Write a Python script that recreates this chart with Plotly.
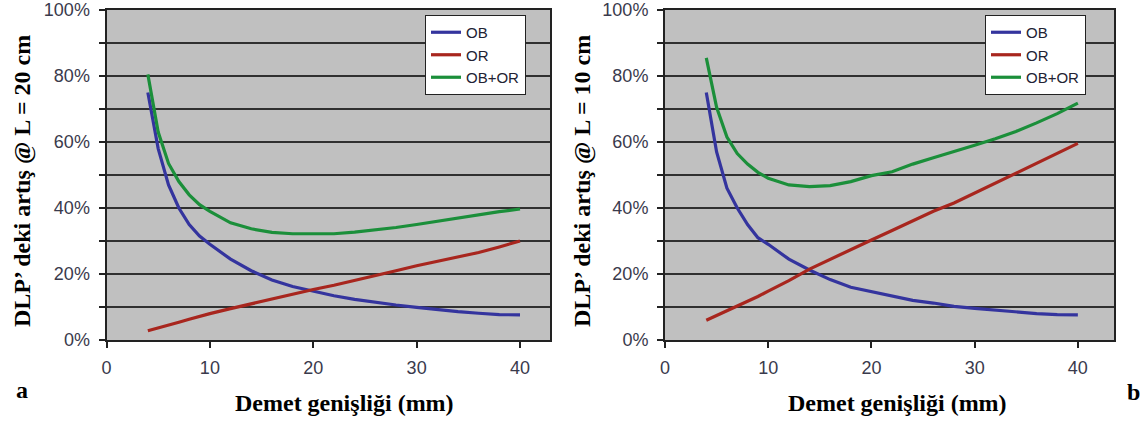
import plotly.graph_objects as go

# Beam width (mm)
width_mm = [4, 5, 6, 7, 8, 9, 10, 12, 14, 16, 18, 20, 22, 24, 26, 28, 30, 32, 34, 36, 38, 40]

# Panel a: L = 20 cm (values in %)
ob_a = [75, 58, 47, 40, 35, 31.5, 29, 24.5, 21, 18.2, 16.2, 14.7, 13.4, 12.3, 11.4, 10.6, 9.9, 9.2, 8.6, 8.1, 7.7, 7.6]
or_a = [2.8, 3.6, 4.5, 5.4, 6.3, 7.2, 8.0, 9.5, 11.0, 12.5, 14.0, 15.3, 16.6, 18.0, 19.5, 21.0, 22.5, 23.8, 25.0, 26.5, 28.2, 30.0]
sum_a = [80.5, 63, 53.5, 48, 44, 41, 39, 35.5, 33.7, 32.6, 32.2, 32.2, 32.2, 32.7, 33.3, 34.1, 35, 36, 37.1, 38, 38.9, 39.7]

# Panel b: L = 10 cm (values in %)
ob_b = [75, 57, 46, 40, 35, 31, 29, 24.5, 21.2, 18.3, 16, 14.7, 13.2, 12, 11.2, 10.2, 9.6, 9, 8.5, 8, 7.7, 7.6]
or_b = [6, 7.4, 8.8, 10.2, 11.6, 13.2, 14.8, 18, 21.5, 24.5, 27.5, 30.3, 33.2, 36, 39, 41.5, 44.5, 47.5, 50.5, 53.5, 56.5, 59.6]
sum_b = [85.5, 70.5, 61.5, 56.5, 53.3, 50.8, 49, 47, 46.5, 46.8, 48, 49.8, 51, 53.3, 55.2, 57, 59, 61, 63.2, 65.8, 68.6, 71.8]

series_names = ["OB", "OR", "OB+OR"]
colors = ["#34349e", "#a8261e", "#1b8f3a"]

y_tickvals = [0, 10, 20, 30, 40, 50, 60, 70, 80, 90, 100]
y_ticktext = ["0%", "", "20%", "", "40%", "", "60%", "", "80%", "", "100%"]
x_tickvals = [0, 10, 20, 30, 40]

W, H = 1148, 421

fig = go.Figure()

for (ys, xa, ya, lg) in [
    ([ob_a, or_a, sum_a], "x", "y", "legend"),
    ([ob_b, or_b, sum_b], "x2", "y2", "legend2"),
]:
    for name, vals, col in zip(series_names, ys, colors):
        fig.add_trace(go.Scatter(
            x=width_mm, y=vals, name=name, mode="lines",
            line=dict(color=col, width=3.2),
            xaxis=xa, yaxis=ya, legend=lg,
        ))

tick_font = dict(family="Liberation Sans, Arial, sans-serif", size=18, color="#3a3a4c")
axis_common = dict(
    showline=True, linecolor="#222222", linewidth=2, mirror=True,
    ticks="outside", ticklen=6, tickwidth=2, tickcolor="#222222",
    tickfont=tick_font, zeroline=False, automargin=False,
)

def px_x(p):
    return p / W

def px_y(p):
    return 1 - p / H

legend_style = dict(
    xanchor="left", yanchor="top",
    bgcolor="white", bordercolor="#222222", borderwidth=1,
    font=dict(family="Liberation Sans, Arial, sans-serif", size=15, color="#222233"),
    itemwidth=30, tracegroupgap=0,
)

fig.update_layout(
    template="none",
    width=W, height=H,
    margin=dict(l=0, r=0, t=0, b=0, pad=0),
    paper_bgcolor="white",
    plot_bgcolor="#c0c0c0",
    xaxis=dict(domain=[px_x(106.5), px_x(550)], range=[0, 42.9], tickvals=x_tickvals,
               showgrid=False, anchor="y", ticklabelstandoff=4, **axis_common),
    yaxis=dict(domain=[px_y(340), px_y(10)], range=[0, 100], tickvals=y_tickvals, ticktext=y_ticktext,
               showgrid=True, gridcolor="#303030", gridwidth=2, anchor="x", ticklabelstandoff=5,
               **axis_common),
    xaxis2=dict(domain=[px_x(665), px_x(1114)], range=[0, 43.5], tickvals=x_tickvals,
                showgrid=False, anchor="y2", ticklabelstandoff=4, **axis_common),
    yaxis2=dict(domain=[px_y(340), px_y(10)], range=[0, 100], tickvals=y_tickvals, ticktext=y_ticktext,
                showgrid=True, gridcolor="#303030", gridwidth=2, anchor="x2", ticklabelstandoff=5,
                **axis_common),
    legend=dict(x=px_x(425), y=px_y(15), **legend_style),
    legend2=dict(x=px_x(985), y=px_y(15), **legend_style),
)

title_font = dict(family="Liberation Serif, Times New Roman, serif", size=24, color="black")
annos = [
    dict(text="<b>DLP’ deki artış @ L = 20 cm</b>", x=px_x(22), y=px_y(181), textangle=-90),
    dict(text="<b>DLP’ deki artış @ L = 10 cm</b>", x=px_x(582), y=px_y(181), textangle=-90),
    dict(text="<b>Demet genişliği (mm)</b>", x=px_x(344), y=px_y(403)),
    dict(text="<b>Demet genişliği (mm)</b>", x=px_x(897), y=px_y(403)),
    dict(text="<b>a</b>", x=px_x(22), y=px_y(390)),
    dict(text="<b>b</b>", x=px_x(1133), y=px_y(392)),
]
for a in annos:
    fig.add_annotation(xref="paper", yref="paper", showarrow=False,
                       xanchor="center", yanchor="middle", font=title_font, **a)

fig.write_html("out.html")
